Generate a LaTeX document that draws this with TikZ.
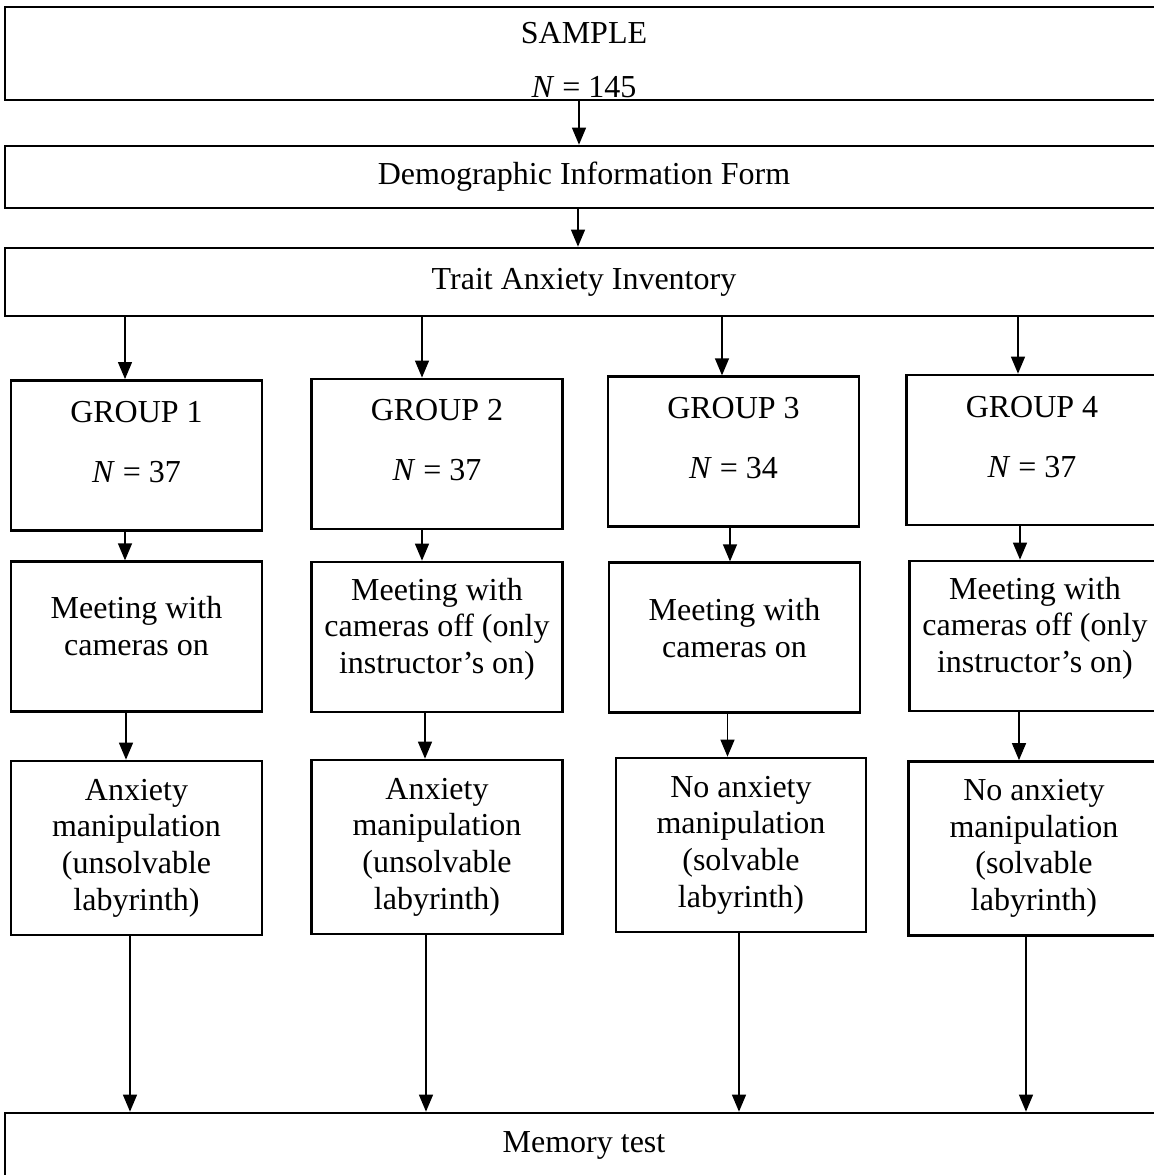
\documentclass[tikz,border=0pt]{standalone}
\usepackage{fontspec}
\setmainfont{Liberation Serif}
\usetikzlibrary{arrows.meta, positioning}
\newcommand{\padbelow}[1]{\rule[-#1]{0pt}{#1}}
\newcommand{\padabove}[1]{\rule{0pt}{#1}}

\begin{document}
\begin{tikzpicture}[x=0.5pt,y=-0.5pt,font=\fontsize{16}{18.3}\selectfont]

    \tikzset{
    % boxes: full-width rows and the four columns
    wide/.style={draw, line width=1.35pt, align=center, minimum width=579pt},
    col/.style={draw, line width=1.35pt, align=center, minimum width=125.5pt},
    grp/.style={col, minimum height=75pt},
    meet/.style={col, minimum height=75pt},
    lab/.style={col, minimum height=87pt},
    arr/.style={-{Triangle[width=7pt,length=8.5pt]}, line width=0.65pt}
    }

    \useasboundingbox (0,0) rectangle (1154,1175);

    % rows across the page
    \node (sample) at (584,53.5)[wide, minimum height=46.5pt, inner ysep=0pt]{\padabove{17pt}SAMPLE\\[8.7pt]\textit{N} = 145};
    \node (demo) at (584,177)[wide, minimum height=31pt]{Demographic Information Form};
    \node (trait) at (584,282)[wide, minimum height=34pt]{Trait Anxiety Inventory};

    % the four groups
    \node (g1) at (136.5,455.4)[grp]{GROUP 1\\[11.7pt]\textit{N} = 37\padbelow{14pt}};
    \node (g2) at (437,453.9)[grp]{GROUP 2\\[11.7pt]\textit{N} = 37\padbelow{14pt}};
    \node (g3) at (733.5,451.7)[grp]{GROUP 3\\[11.7pt]\textit{N} = 34\padbelow{14pt}};
    \node (g4) at (1032,450)[grp]{GROUP 4\\[11.7pt]\textit{N} = 37\padbelow{13pt}};

    \node (m1) at (136.5,636.7)[meet]{Meeting with\\cameras on\padbelow{11pt}};
    \node (m2) at (437,637)[meet]{Meeting with\\cameras off (only\\instructor’s on)\padbelow{11.5pt}};
    \node (m3) at (734.5,637.7)[meet]{Meeting with\\cameras on\padbelow{10pt}};
    \node (m4) at (1035,636)[meet]{Meeting with\\cameras off (only\\instructor’s on)\padbelow{11.5pt}};

    \node (l1) at (136.5,848)[lab]{Anxiety\\manipulation\\(unsolvable\\labyrinth)};
    \node (l2) at (437,847)[lab]{Anxiety\\manipulation\\(unsolvable\\labyrinth)};
    \node (l3) at (741,845)[lab, minimum width=125pt]{No anxiety\\manipulation\\(solvable\\labyrinth)};
    \node (l4) at (1034,848.5)[lab]{No anxiety\\manipulation\\(solvable\\labyrinth)};

    \node (memory) at (584,1145)[wide, minimum height=32pt]{Memory test};

    % connectors
    \draw[arr] ([xshift=-2.5pt]sample.south) -- ([xshift=-2.5pt]demo.north);
    \draw[arr] ([xshift=-3pt]demo.south) -- ([xshift=-3pt]trait.north);
    \foreach \i/\dxa/\dxb/\dxc/\dxd in {1/-5.75/-5.75/-5.25/-3.25, 2/-7.5/-7.5/-6/-5.5, 3/-5.75/-1.75/-3.5/-1, 4/-7/-6/-8/-4}{
        \draw[arr] ([xshift=\dxa pt]trait.south -| g\i) -- ([xshift=\dxa pt]g\i.north);
        \draw[arr] ([xshift=\dxb pt]g\i.south) -- ([xshift=\dxb pt]g\i.south |- m\i.north);
        \draw[arr] ([xshift=\dxc pt]m\i.south) -- ([xshift=\dxc pt]m\i.south |- l\i.north);
        \draw[arr] ([xshift=\dxd pt]l\i.south) -- ([xshift=\dxd pt]l\i.south |- memory.north);
    }
\end{tikzpicture}
\end{document}
